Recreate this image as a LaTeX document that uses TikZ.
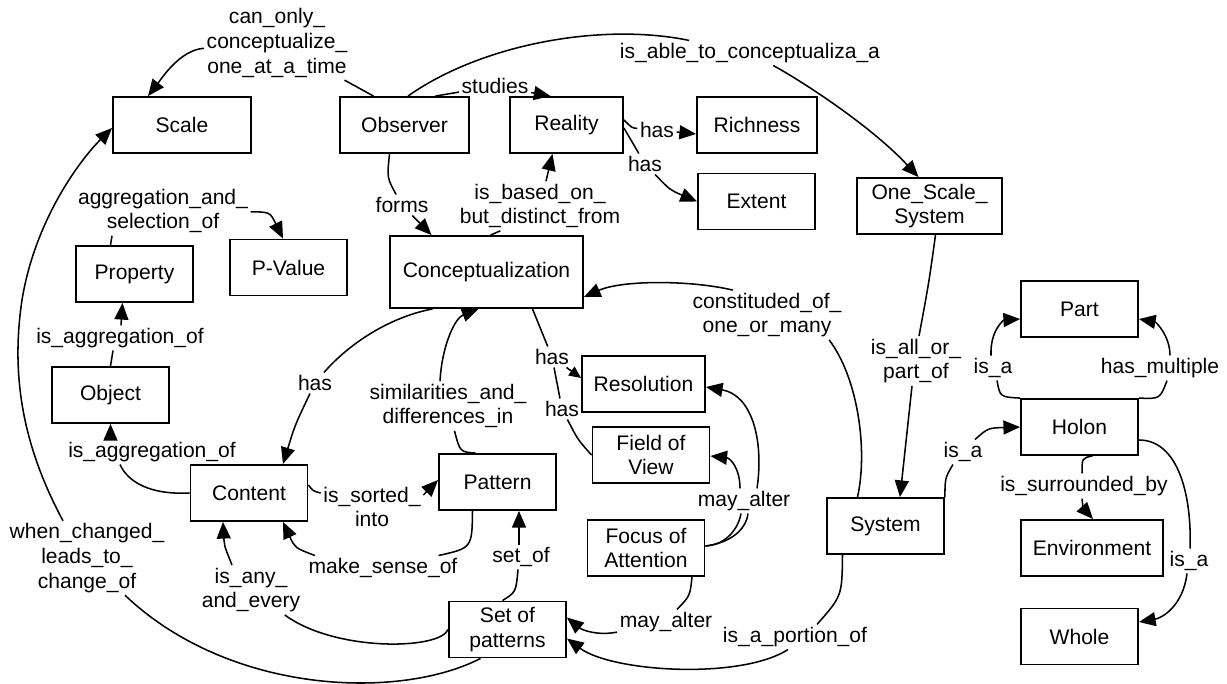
\documentclass[tikz,border=0pt]{standalone}
\usepackage{fontspec}
\setmainfont{Liberation Sans}
\usetikzlibrary{arrows.meta,calc}

\tikzset{every picture/.style={line width=1.15pt}}
\tikzset{
  concept/.style={draw, line width=1.4pt, minimum width=87.75pt, minimum height=42pt, inner sep=1pt, align=center},
  linkword/.style={inner sep=1.5pt, align=center},
  arr/.style={-{Triangle[length=12.5pt,width=10.5pt]}},
  smallarr/.style={-{Triangle[length=9pt,width=8pt]}},
}

\begin{document}
\begin{tikzpicture}[x=0.75pt,y=0.75pt,yscale=-1,xscale=1,every node/.style={font=\fontsize{15.8}{18.5}\selectfont}]
\useasboundingbox (0,0) rectangle (1227,684);

%Shape: Rectangle
\node[concept, minimum width=103.5pt] (scale) at (182,125) {Scale};
\node[concept, minimum width=96.75pt] (obs) at (404.5,125) {Observer};
\node[concept, minimum width=84.75pt] (real) at (566.5,125) {Reality};
\node[concept, minimum width=90pt] (rich) at (757,125) {Richness};
\node[concept] (ext) at (756.5,201.5) {Extent};
\node[concept, minimum width=108.75pt] (oss) at (929.5,206) {One\_Scale\_\\System};
\node[concept] (pval) at (288.5,267.5) {P-Value};
\node[concept] (prop) at (134.5,274) {Property};
\node[concept] (obj) at (110.5,395) {Object};
\node[concept, minimum width=144.75pt, minimum height=54pt] (conc) at (486.5,272) {Conceptualization};
\node[concept, minimum width=92.25pt] (res) at (643.5,384) {Resolution};
\node[concept] (fov) at (651,455) {Field of\\View};
\node[concept] (cont) at (249,493) {Content};
\node[concept] (patt) at (497.5,482) {Pattern};
\node[concept] (foa) at (646,548) {Focus of\\Attention};
\node[concept] (sop) at (507.5,629.5) {Set of\\patterns};
\node[concept] (sys) at (885.5,526) {System};
\node[concept] (part) at (1079.5,309) {Part};
\node[concept] (hol) at (1079.5,427) {Holon};
\node[concept, minimum width=106.5pt] (env) at (1092,548) {Environment};
\node[concept] (whole) at (1079.5,636.5) {Whole};

% Text Node
\node[linkword] (canonly) at (277,43) {can\_only\_\\conceptualize\_\\one\_at\_a\_time};
\node[linkword] (studies) at (495,86) {studies};
\node[linkword] (isable) at (750,53) {is\_able\_to\_conceptualiza\_a};
\node[linkword] (hasrich) at (657,130) {has};
\node[linkword] (hasext) at (645,164) {has};
\node[linkword] (based) at (540,206) {is\_based\_on\_\\but\_distinct\_from};
\node[linkword] (forms) at (402,205) {forms};
\node[linkword] (aggsel) at (163,211) {aggregation\_and\_\\selection\_of};
\node[linkword] (aggprop) at (120,338) {is\_aggregation\_of};
\node[linkword] (aggobj) at (152,452) {is\_aggregation\_of};
\node[linkword] (hascont) at (315,383) {has};
\node[linkword] (simdiff) at (448,406) {similarities\_and\_\\differences\_in};
\node[linkword] (hasres) at (552,357) {has};
\node[linkword] (hasfov) at (562,409) {has};
\node[linkword] (sorted) at (372,507) {is\_sorted\_\\into};
\node[linkword] (makesense) at (383,568) {make\_sense\_of};
\node[linkword] (anyevery) at (251,590) {is\_any\_\\and\_every};
\node[linkword] (setof) at (521,557) {set\_of};
\node[linkword] (alterset) at (666,622) {may\_alter};
\node[linkword] (alterview) at (744,501) {may\_alter};
\node[linkword] (constit) at (767,315) {constituded\_of\_\\one\_or\_many};
\node[linkword] (allpart) at (916,361) {is\_all\_or\_\\part\_of};
\node[linkword] (isaholon) at (963,452) {is\_a};
\node[linkword] (isapart) at (993,368) {is\_a};
\node[linkword] (hasmult) at (1160,368) {has\_multiple};
\node[linkword] (surround) at (1084,486) {is\_surrounded\_by};
\node[linkword] (isawhole) at (1189,561) {is\_a};
\node[linkword] (portion) at (795,637) {is\_a\_portion\_of};
\node[linkword] (whenchanged) at (87,558) {when\_changed\_\\leads\_to\_\\change\_of};

%Curve Lines
\draw ($(obs.north)+(-31,0)$) -- (canonly);
\draw[arr] (canonly) .. controls (180,50) and (162,78) .. ($(scale.north)+(-34,0)$);

\draw ($(obs.north)+(31,0)$) -- (studies);
\draw[arr] (studies) -- ($(real.north)+(-16,0)$);

\draw ($(obs.north)+(3.5,0)$) .. controls (480,45) and (600,22) .. (isable);
\draw[arr] (isable) .. controls (800,80) and (870,125) .. ($(oss.north)+(-11,0)$);

\draw ($(real.east)+(0,-5)$) .. controls (632,128) .. (hasrich);
\draw[arr] (hasrich) -- ($(rich.west)+(0,9)$);

\draw ($(real.east)+(0,3)$) -- (hasext);
\draw[arr] (hasext) .. controls (670,190) .. (ext.west);

\draw ($(conc.north)+(4,0)$) .. controls (500,231) .. (based);
\draw[arr] (based) -- ($(real.south)+(-14,0)$);

\draw ($(obs.south)+(-15,0)$) .. controls (387,178) .. (forms);
\draw[arr] (forms) -- ($(conc.north)+(-55,0)$);

\draw ($(prop.north)+(-24,0)$) -- ($(aggsel.south)+(-51,0)$);
\draw[arr] (aggsel) .. controls (270,212) .. ($(pval.north)+(-5.5,0)$);

\draw (obj.north) -- ($(aggprop.south)+(-7,0)$);
\draw[arr] ($(aggprop.north)+(1,0)$) -- ($(prop.south)+(-12,0)$);

\draw (cont.west) .. controls (150,495) and (128,482) .. ($(aggobj.south)+(-32,0)$);
\draw[arr] ($(aggobj.north)+(-41.5,0)$) -- (obj.south);

\draw ($(conc.south)+(-54,0)$) .. controls (385,318) and (345,348) .. (hascont);
\draw[arr] (hascont) .. controls (295,425) .. ($(cont.north)+(34,0)$);

\draw ($(patt.north)+(-22,0)$) .. controls (460,452) .. (simdiff);
\draw[arr] ($(simdiff.north)+(-8,0)$) .. controls (442,345) and (455,318) .. ($(conc.south)+(-8,0)$);

\draw ($(conc.south)+(46,0)$) -- (hasres);
\draw[smallarr] (hasres) -- ($(res.west)+(0,-6)$);
\draw (hasres) -- (hasfov);
\draw (hasfov) .. controls (578,440) .. (fov.west);

\draw ($(cont.east)+(0,-8)$) .. controls (313,491) .. (sorted);
\draw[arr] ($(sorted.east)+(0,-12)$) -- ($(patt.west)+(0,-2)$);

\draw ($(patt.south)+(-25,0)$) .. controls (472,548) .. (makesense);
\draw[arr] ($(makesense.north)+(-68,0)$) .. controls (295,548) .. ($(cont.south)+(34,0)$);

\draw (sop.west) .. controls (440,650) and (335,652) .. (anyevery);
\draw[arr] ($(anyevery.north)+(-19,0)$) .. controls (224,545) .. ($(cont.south)+(-26,0)$);

\draw ($(sop.north)+(-5,0)$) .. controls (516,592) .. ($(setof.south)+(-3,0)$);
\draw[arr] ($(setof.north)+(-2,0)$) -- ($(patt.south)+(21.5,0)$);

\draw ($(foa.south)+(46,0)$) .. controls (690,596) .. ($(alterset.north)+(11,0)$);
\draw[arr] (alterset) .. controls (598,636) and (582,630) .. ($(sop.east)+(0,-12)$);

\draw ($(foa.east)+(0,-2)$) .. controls (725,545) and (738,530) .. ($(alterview.south)+(-3,0)$);
\draw ($(foa.east)+(0,-2)$) .. controls (730,543) and (746,530) .. ($(alterview.south)+(4,0)$);
\draw[arr] ($(alterview.north)+(-4,0)$) .. controls (740,468) and (730,458) .. ($(fov.east)+(0,1)$);
\draw[arr] ($(alterview.north)+(13,0)$) .. controls (764,440) and (752,395) .. ($(res.east)+(0,3)$);

\draw ($(sys.north)+(-28,0)$) .. controls (868,450) and (858,378) .. ($(constit.south east)+(-15,0)$);
\draw[arr] ($(constit.north west)+(43,0)$) .. controls (690,280) and (622,280) .. ($(conc.east)+(0,25)$);

\draw ($(oss.south)+(6,0)$) .. controls (929,282) .. ($(allpart.north)+(3,0)$);
\draw[arr] ($(allpart.south)+(-4,0)$) -- ($(sys.north)+(14.5,0)$);

\draw (sys.north east) .. controls (945,478) .. ($(isaholon.south)+(-10,0)$);
\draw[arr] ($(isaholon.north)+(12,0)$) .. controls (988,428) .. (hol.west);

\draw (hol.north west) .. controls (1000,397) .. ($(isapart.south)+(4,0)$);
\draw[arr] ($(isapart.north)+(-2,0)$) .. controls (990,330) and (1004,320) .. ($(part.west)+(0,10)$);

\draw (hol.north east) .. controls (1160,399) .. ($(hasmult.south)+(7,0)$);
\draw[arr] ($(hasmult.north)+(10,0)$) .. controls (1170,336) and (1156,322) .. ($(part.east)+(0,10)$);

\draw ($(hol.south)+(13,0)$) .. controls (1082,458) .. ($(surround.north)+(-2,0)$);
\draw[arr] ($(surround.south)+(-2,0)$) .. controls (1083,508) .. ($(env.north)+(1,0)$);

\draw ($(hol.east)+(0,13)$) .. controls (1178,440) and (1192,495) .. ($(isawhole.north)+(1,0)$);
\draw[arr] ($(isawhole.south)+(-2,0)$) .. controls (1183,606) and (1162,618) .. ($(whole.east)+(0,-14.5)$);

\draw ($(sys.south)+(-43,0)$) .. controls (842,596) .. ($(portion.north)+(22,0)$);
\draw[arr] ($(portion.south)+(-7,0)$) .. controls (740,680) and (612,672) .. ($(sop.east)+(0,9)$);

\draw ($(sop.south)+(-27,0)$) .. controls (400,700) and (230,695) .. ($(whenchanged.south)+(38,0)$);
\draw[arr] ($(whenchanged.north)+(-24,0)$) .. controls (25,450) and (10,380) .. (22,300) .. controls (35,220) and (80,160) .. ($(scale.west)+(0,3)$);

\end{tikzpicture}
\end{document}
